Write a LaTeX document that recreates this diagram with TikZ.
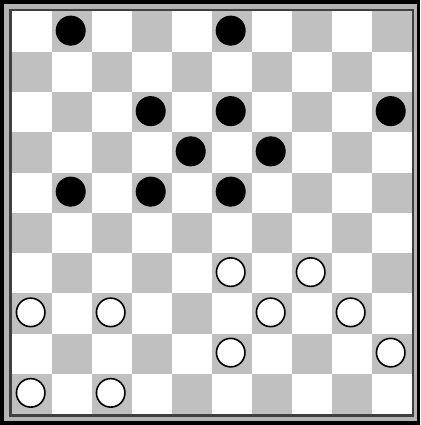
\documentclass[tikz,border=0pt]{standalone}
\definecolor{sq}{HTML}{C0C0C0}
\definecolor{fr}{HTML}{B4B4B4}
\definecolor{ln}{HTML}{404040}
\tikzset{
  blackpc/.style={circle,fill=black,draw=black,line width=1pt,minimum size=29pt,inner sep=0pt},
  whitepc/.style={circle,fill=white,draw=black,line width=1.6pt,minimum size=28.5pt,inner sep=0pt}
}
\begin{document}
\begin{tikzpicture}[x=1pt,y=-1pt]
\useasboundingbox (0,0) rectangle (420,425);
\fill[black] (0,0) rectangle (420,425);
\fill[fr] (4,4) rectangle (416.5,421);
\fill[ln] (9,9) rectangle (413.5,416.5);
\fill[white] (11.5,11.5) rectangle (411.5,414);
\foreach \r in {0,...,9}{
  \foreach \c in {0,...,9}{
    \pgfmathparse{int(mod(\r+\c,2))}
    \ifnum\pgfmathresult=1
      \fill[sq] ({11.5+\c*40},{11.5+\r*40.25}) rectangle ({11.5+(\c+1)*40},{11.5+(\r+1)*40.25});
    \fi
  }
}
% black pieces (row,col)
\foreach \r/\c [count=\i] in {0/1,0/5,2/3,2/5,2/9,3/4,3/6,4/1,4/3,4/5}{
  \node[blackpc] (b\i) at ({11.5+(\c+0.5)*40-0.8},{11.5+(\r+0.5)*40.25-1}) {};
}
% white pieces
\foreach \r/\c [count=\i] in {6/5,6/7,7/0,7/2,7/6,7/8,8/5,8/9,9/0,9/2}{
  \node[whitepc] (w\i) at ({11.5+(\c+0.5)*40-0.8},{11.5+(\r+0.5)*40.25-1}) {};
}
\end{tikzpicture}
\end{document}
